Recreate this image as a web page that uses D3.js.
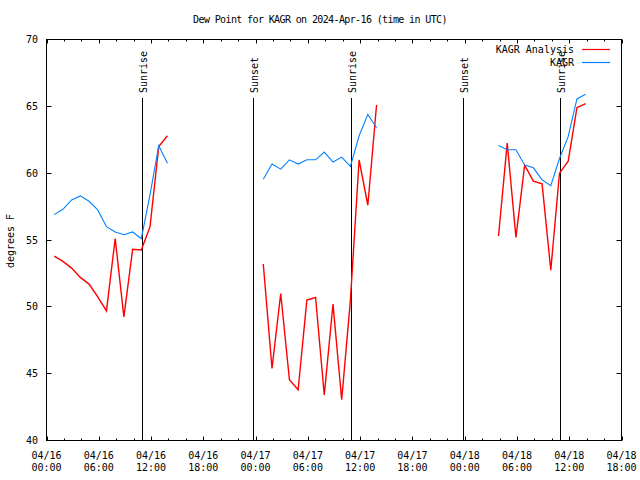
<!DOCTYPE html>
<html>
<head>
<meta charset="utf-8">
<script src="https://cdn.jsdelivr.net/npm/d3@7"></script>
<style>
  html, body { margin: 0; padding: 0; background: #fff; }
  svg { display: block; }
  text { font-family: "DejaVu Sans Mono", "Liberation Mono", monospace; font-size: 10px; fill: #000; }
</style>
</head>
<body>
<svg id="chart" width="640" height="480"></svg>
<script>
// ---- data ----
const titleText = "Dew Point for KAGR on 2024-Apr-16 (time in UTC)";
const yLabel = "degrees F";
const yTicks = [40, 45, 50, 55, 60, 65, 70];
const xStart = "2024-04-16T00:00Z";
const xEnd = "2024-04-18T18:00Z";

// observation hours (UTC, hours since 2024-04-16 00:00), observations at :53
const obsHours = [
  0, 1, 2, 3, 4, 5, 6, 7, 8, 9, 10, 11, 12, 13,
  24, 25, 26, 27, 28, 29, 30, 31, 32, 33, 34, 35, 36, 37,
  51, 52, 53, 54, 55, 56, 57, 58, 59, 60, 61
];
const analysisValues = [
  53.8, 53.4, 52.9, 52.2, 51.7, 50.75, 49.7, 55.1, 49.25, 54.3, 54.25, 56.0, 62.0, 62.8,
  53.2, 45.4, 51.0, 44.55, 43.8, 50.5, 50.7, 43.4, 50.2, 43.05, 50.5, 61.0, 57.6, 65.1,
  55.3, 62.25, 55.2, 60.6, 59.4, 59.2, 52.75, 60.0, 60.9, 64.9, 65.2
];
const kagrValues = [
  56.9, 57.3, 58.0, 58.3, 57.9, 57.25, 56.0, 55.6, 55.4, 55.6, 55.1, 58.4, 62.05, 60.75,
  59.55, 60.68, 60.3, 61.0, 60.68, 61.0, 61.0, 61.58, 60.83, 61.2, 60.5, 62.8, 64.4, 63.4,
  62.07, 61.75, 61.75, 60.6, 60.4, 59.5, 59.07, 61.1, 62.75, 65.55, 65.9
];
const seriesNames = ["KAGR Analysis", "KAGR"];
const seriesColors = ["#ff0000", "#0080ff"];

const sunEvents = [
  { label: "Sunrise", time: "2024-04-16T10:57Z" },
  { label: "Sunset",  time: "2024-04-16T23:45Z" },
  { label: "Sunrise", time: "2024-04-17T10:57Z" },
  { label: "Sunset",  time: "2024-04-17T23:46Z" },
  { label: "Sunrise", time: "2024-04-18T10:55Z" }
];

// ---- layout ----
const L = 46.5, R = 621.5, T = 39.5, B = 440.5;
const svg = d3.select("#chart");

const x = d3.scaleUtc().domain([new Date(xStart), new Date(xEnd)]).range([L, R]);
const y = d3.scaleLinear().domain([40, 70]).range([B, T]);

const base = new Date(xStart).getTime();
const toDate = h => new Date(base + (h * 60 + 53) * 60000);

// split into segments of consecutive hours
function segments(values) {
  const segs = [];
  let cur = [];
  obsHours.forEach((h, i) => {
    if (i > 0 && h - obsHours[i - 1] > 1) { segs.push(cur); cur = []; }
    cur.push({ t: toDate(h), v: values[i] });
  });
  if (cur.length) segs.push(cur);
  return segs;
}

// title
svg.append("text").attr("x", 320).attr("y", 23).attr("text-anchor", "middle")
  .style("letter-spacing", "-0.62px").text(titleText);

// y label
svg.append("text").attr("transform", "translate(14,241) rotate(-90)")
  .attr("text-anchor", "middle").text(yLabel);

// x minor ticks (2h) bottom and top
const minorTicks = x.ticks(d3.utcHour.every(2));
const majorTicks = x.ticks(d3.utcHour.every(6));
const g = svg.append("g");
minorTicks.forEach(d => {
  const isMajor = d.getUTCHours() % 6 === 0;
  const len = isMajor ? 4 : 2;
  const xx = Math.round(x(d)) + 0.5;
  g.append("line").attr("x1", xx).attr("x2", xx).attr("y1", B).attr("y2", B - len)
    .attr("stroke", "#000").attr("stroke-width", 1);
  g.append("line").attr("x1", xx).attr("x2", xx).attr("y1", T).attr("y2", T + len)
    .attr("stroke", "#000").attr("stroke-width", 1);
});
const fmtDay = d3.utcFormat("%m/%d"), fmtHour = d3.utcFormat("%H:%M");
majorTicks.forEach(d => {
  const t = g.append("text").attr("x", x(d)).attr("text-anchor", "middle");
  t.append("tspan").attr("x", x(d)).attr("y", 458.5).text(fmtDay(d));
  t.append("tspan").attr("x", x(d)).attr("y", 470.5).text(fmtHour(d));
});

// y ticks left and right
yTicks.forEach(v => {
  const yy = Math.round(y(v) - 0.5) + 0.5;
  g.append("line").attr("x1", L).attr("x2", L + 5).attr("y1", yy).attr("y2", yy).attr("stroke", "#000");
  g.append("line").attr("x1", R).attr("x2", R - 5).attr("y1", yy).attr("y2", yy).attr("stroke", "#000");
  g.append("text").attr("x", 38).attr("y", y(v)).attr("dy", "0.35em")
    .attr("text-anchor", "end").text(v);
});

// border
svg.append("rect").attr("x", L).attr("y", T).attr("width", R - L).attr("height", B - T)
  .attr("fill", "none").attr("stroke", "#000").attr("stroke-width", 1);

// sun events
sunEvents.forEach(e => {
  const xx = Math.round(x(new Date(e.time))) + 0.5;
  svg.append("line").attr("x1", xx).attr("x2", xx).attr("y1", 98).attr("y2", B)
    .attr("stroke", "#000").attr("stroke-width", 1);
  svg.append("text").attr("transform", `translate(${xx + 4.5},93) rotate(-90)`)
    .attr("text-anchor", "start").text(e.label);
});

// data lines
const line = d3.line().x(d => x(d.t)).y(d => y(d.v));
[analysisValues, kagrValues].forEach((vals, i) => {
  segments(vals).forEach(seg => {
    svg.append("path").datum(seg).attr("d", line)
      .attr("fill", "none").attr("stroke", seriesColors[i])
      .attr("stroke-width", i === 0 ? 1.4 : 1.1);
  });
});

// legend
seriesNames.forEach((name, i) => {
  const ly = 49.5 + i * 13;
  svg.append("text").attr("x", 574).attr("y", ly).attr("dy", "0.35em")
    .attr("text-anchor", "end").text(name);
  svg.append("line").attr("x1", 582).attr("x2", 610).attr("y1", ly).attr("y2", ly)
    .attr("stroke", seriesColors[i]).attr("stroke-width", 1.2);
});
</script>
</body>
</html>
